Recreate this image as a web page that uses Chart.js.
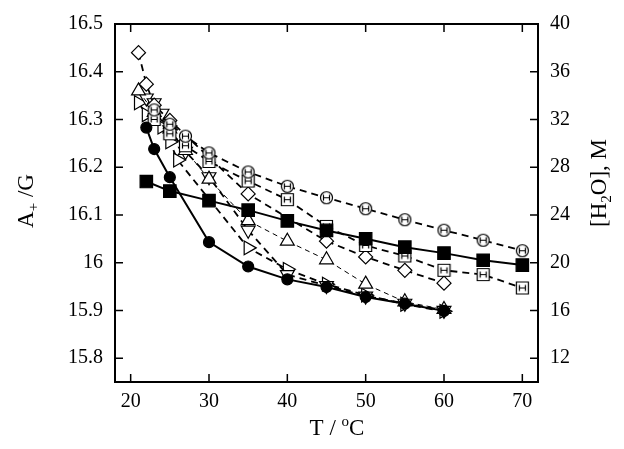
<!DOCTYPE html>
<html>
<head>
<meta charset="utf-8">
<script src="https://cdn.jsdelivr.net/npm/chart.js@4.4.1/dist/chart.umd.min.js"></script>
<style>
    html, body { margin: 0; padding: 0; background: #fff; }
</style>
</head>
<body>
<canvas id="epsChart" width="624" height="449"></canvas>
<script>
// axis ticks
const xTicks = [20, 30, 40, 50, 60, 70];
const leftTicks = [15.8, 15.9, 16, 16.1, 16.2, 16.3, 16.4, 16.5];
const rightTicks = [12, 16, 20, 24, 28, 32, 36, 40];

// filled circles, A+ / G
const tFilledCircle = [22, 23, 25, 30, 35, 40, 45, 50, 55, 60];
const aFilledCircle = [16.283, 16.238, 16.179, 16.043, 15.992, 15.965, 15.949, 15.928, 15.914, 15.899];

// filled squares, [H2O] in M (right axis)
const tWater = [22, 25, 30, 35, 40, 45, 50, 55, 60, 65, 70];
const water = [26.8, 26.0, 25.2, 24.4, 23.5, 22.7, 22.0, 21.3, 20.8, 20.2, 19.8];

// open circles with bar
const tCircleBar = [23, 25, 27, 30, 35, 40, 45, 50, 55, 60, 65, 70];
const aCircleBar = [16.32, 16.29, 16.265, 16.23, 16.19, 16.16, 16.136, 16.113, 16.09, 16.068, 16.047, 16.025];

// open squares with bar
const tSquareBar = [23, 25, 27, 30, 35, 40, 45, 50, 55, 60, 65, 70];
const aSquareBar = [16.30, 16.27, 16.245, 16.212, 16.171, 16.132, 16.076, 16.036, 16.014, 15.984, 15.975, 15.947];

// open diamonds
const tDiamond = [21, 22, 23, 25, 35, 45, 50, 55, 60];
const aDiamond = [16.44, 16.374, 16.33, 16.298, 16.144, 16.045, 16.012, 15.984, 15.957];

// open triangles (up)
const tUp = [21, 23, 25, 27, 30, 35, 40, 45, 50, 55, 60];
const aUp = [16.36, 16.315, 16.28, 16.235, 16.175, 16.088, 16.045, 16.006, 15.955, 15.918, 15.902];

// open triangles (down)
const tDown = [22, 23, 24, 25, 27, 30, 35, 40, 45, 50, 55, 60];
const aDown = [16.345, 16.335, 16.313, 16.278, 16.233, 16.18, 16.068, 15.975, 15.952, 15.93, 15.915, 15.9];

// open triangles (right)
const tRight = [21, 22, 24, 25, 26, 35, 40, 45, 50, 55, 60];
const aRight = [16.335, 16.31, 16.284, 16.253, 16.215, 16.031, 15.986, 15.955, 15.932, 15.913, 15.898];

const FONT = '"Liberation Serif", "Times New Roman", serif';

function barMarker(shape) {
    const c = document.createElement('canvas');
    c.width = 15; c.height = 15;
    const g = c.getContext('2d');
    g.fillStyle = '#fff';
    g.strokeStyle = '#000';
    g.lineWidth = 1.2;
    g.beginPath();
    if (shape === 'circle') g.arc(7.5, 7.5, 6, 0, Math.PI * 2);
    else g.rect(1.5, 1.5, 12, 12);
    g.fill();
    g.stroke();
    g.beginPath();
    g.moveTo(4.5, 7.5); g.lineTo(10.5, 7.5);
    g.moveTo(4.5, 4.5); g.lineTo(4.5, 10.5);
    g.moveTo(10.5, 4.5); g.lineTo(10.5, 10.5);
    g.stroke();
    return c;
}

function series(xs, ys, opts) {
    return Object.assign({
        data: xs.map((x, i) => ({ x: x, y: ys[i] })),
        showLine: true,
        borderColor: '#000',
        borderWidth: 1.8,
        pointBorderColor: '#000',
        pointBackgroundColor: '#fff',
        pointBorderWidth: 1.2,
        pointRadius: 7,
        yAxisID: 'y'
    }, opts);
}

function drawRich(ctx, parts, x, y) {
    let w = 0;
    parts.forEach(p => { ctx.font = p[1] + 'px ' + FONT; w += ctx.measureText(p[0]).width; });
    let cx = x - w / 2;
    parts.forEach(p => {
        ctx.font = p[1] + 'px ' + FONT;
        ctx.fillText(p[0], cx, y + p[2]);
        cx += ctx.measureText(p[0]).width;
    });
}

const framePlugin = {
    id: 'frame',
    afterDraw(chart) {
        const { ctx, chartArea: a, scales } = chart;
        ctx.save();
        ctx.strokeStyle = '#000';
        ctx.lineWidth = 1.5;
        ctx.beginPath();
        xTicks.forEach(v => {
            const px = scales.x.getPixelForValue(v);
            ctx.moveTo(px, a.bottom); ctx.lineTo(px, a.bottom - 8);
            ctx.moveTo(px, a.top); ctx.lineTo(px, a.top + 8);
        });
        leftTicks.forEach(v => {
            const py = scales.y.getPixelForValue(v);
            ctx.moveTo(a.left, py); ctx.lineTo(a.left + 8, py);
        });
        rightTicks.forEach(v => {
            const py = scales.y1.getPixelForValue(v);
            ctx.moveTo(a.right, py); ctx.lineTo(a.right - 8, py);
        });
        ctx.stroke();
        ctx.lineWidth = 2;
        ctx.strokeRect(a.left, a.top, a.right - a.left, a.bottom - a.top);

        // axis titles
        ctx.fillStyle = '#000';
        ctx.textBaseline = 'alphabetic';
        ctx.textAlign = 'left';
        drawRich(ctx, [['T / ', 23, 0], ['o', 15, -9], ['C', 23, 0]], 337, 435);

        ctx.save();
        ctx.translate(33, 201);
        ctx.rotate(-Math.PI / 2);
        drawRich(ctx, [['A', 23, 0], ['+', 15, 5], [' /G', 23, 0]], 0, 0);
        ctx.restore();

        ctx.save();
        ctx.translate(606, 183);
        ctx.rotate(-Math.PI / 2);
        drawRich(ctx, [['[H', 23, 0], ['2', 15, 5], ['O], M', 23, 0]], 0, 0);
        ctx.restore();
        ctx.restore();
    }
};

document.addEventListener('DOMContentLoaded', () => {
    const ctx = document.getElementById('epsChart');
    const tickFont = { family: FONT, size: 20 };

    new Chart(ctx.getContext('2d'), {
        type: 'scatter',
        data: {
            datasets: [
                series(tFilledCircle, aFilledCircle, {
                    pointStyle: 'circle', pointRadius: 5.5, pointBackgroundColor: '#000', borderWidth: 2
                }),
                series(tWater, water, {
                    yAxisID: 'y1', pointStyle: 'rect', pointRadius: 8.8, pointBackgroundColor: '#000', borderWidth: 2
                }),
                series(tCircleBar, aCircleBar, {
                    pointStyle: barMarker('circle'), borderDash: [7, 5]
                }),
                series(tSquareBar, aSquareBar, {
                    pointStyle: barMarker('square'), borderDash: [7, 5]
                }),
                series(tDiamond, aDiamond, {
                    pointStyle: 'rectRot', pointRadius: 7, borderDash: [7, 5]
                }),
                series(tUp, aUp, {
                    pointStyle: 'triangle', pointRadius: 8, borderWidth: 1, borderDash: [5, 4]
                }),
                series(tDown, aDown, {
                    pointStyle: 'triangle', pointRotation: 180, pointRadius: 8, borderDash: [7, 5]
                }),
                series(tRight, aRight, {
                    pointStyle: 'triangle', pointRotation: 90, pointRadius: 8, borderDash: [7, 5]
                })
            ]
        },
        options: {
            responsive: false,
            animation: false,
            devicePixelRatio: 1,
            layout: { padding: { top: 17, left: 0, right: 0, bottom: 0 } },
            plugins: {
                legend: { display: false },
                tooltip: { enabled: false }
            },
            scales: {
                x: {
                    type: 'linear',
                    min: 18,
                    max: 72,
                    afterBuildTicks: s => { s.ticks = xTicks.map(v => ({ value: v })); },
                    afterFit: s => { s.height = 67; },
                    grid: { display: false, drawTicks: false },
                    border: { display: false },
                    ticks: { font: tickFont, color: '#000', padding: 8 }
                },
                y: {
                    position: 'left',
                    min: 15.75,
                    max: 16.5,
                    afterBuildTicks: s => { s.ticks = leftTicks.map(v => ({ value: v })); },
                    afterFit: s => { s.width = 115; },
                    grid: { display: false, drawTicks: false },
                    border: { display: false },
                    ticks: {
                        font: tickFont, color: '#000', padding: 12,
                        callback: v => String(+v.toFixed(2))
                    }
                },
                y1: {
                    position: 'right',
                    min: 10,
                    max: 40,
                    afterBuildTicks: s => { s.ticks = rightTicks.map(v => ({ value: v })); },
                    afterFit: s => { s.width = 86; },
                    grid: { display: false, drawTicks: false },
                    border: { display: false },
                    ticks: { font: tickFont, color: '#000', padding: 12 }
                }
            }
        },
        plugins: [framePlugin]
    });
});
</script>
</body>
</html>
